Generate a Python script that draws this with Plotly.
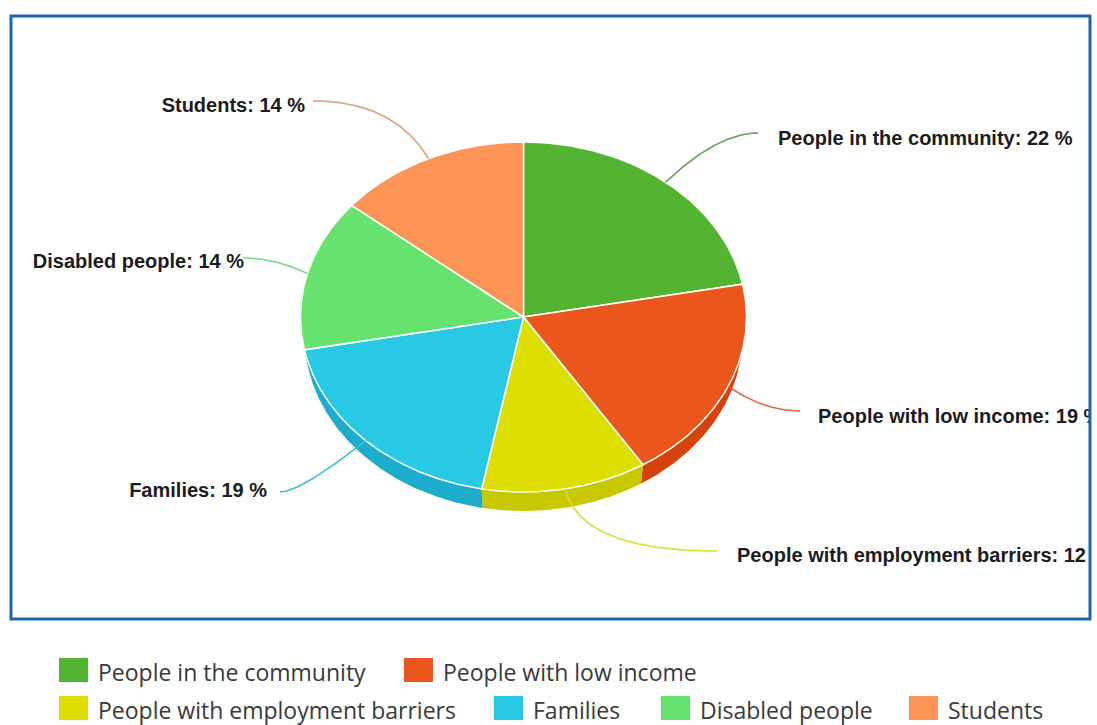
import numpy as np
import plotly.graph_objects as go

# ---------------- data ----------------
categories = ["People in the community", "People with low income",
              "People with employment barriers", "Families",
              "Disabled people", "Students"]
values = [22, 19, 12, 19, 14, 14]

# ---------------- styles ----------------
colors_top = ["#53b432", "#ea561b", "#dedf00", "#27c9e5", "#66e26f", "#fd9456"]
colors_side = ["#3f9a22", "#d4420e", "#c8c800", "#1badcb", "#4ec85a", "#e07a3e"]
conn_colors = ["#6a9e58", "#e2673f", "#d3e03a", "#3cc3d0", "#78dd80", "#dfa177"]

W, H = 1097, 725
CLIP_X = 1089
# pie geometry (pixels)
CX, CY, RX, RY = 523.5, 317.0, 223.0, 175.0
DEPTH, RXB = 19.0, 219.0

# label layout: text edge x, cap-centre y, side
label_x = [778, 818, 737, 267, 244, 305]
label_y = [140, 418, 557, 492, 263, 107]
label_side = ["right", "right", "right", "left", "left", "left"]
conn_end_x = [758, 800, 717, 280, 243, 313]
conn_end_y = [133, 411, 551, 492, 258, 101]

# legend layout
leg_sw_x = [59, 404, 59, 494, 661, 909]
leg_row_y = [670, 670, 708, 708, 708, 708]

fig = go.Figure()

total = float(sum(values))
cum = np.concatenate([[0.0], np.cumsum(values)]) / total
th_start = np.radians(90 - 360 * cum[:-1])
th_end = np.radians(90 - 360 * cum[1:])


def top_pt(t):
    return CX + RX * np.cos(t), CY - RY * np.sin(t)


def bot_pt(t):
    return CX + RXB * np.cos(t), CY + DEPTH - RY * np.sin(t)


# side bands
for i in range(len(values)):
    t = np.linspace(th_start[i], th_end[i], 120)
    tx, ty = top_pt(t)
    bx, by = bot_pt(t[::-1])
    fig.add_trace(go.Scatter(
        x=np.concatenate([tx, bx, tx[:1]]), y=np.concatenate([ty, by, ty[:1]]),
        mode="lines", fill="toself", fillcolor=colors_side[i],
        line=dict(width=0, color=colors_side[i]), hoverinfo="skip"))

# top faces
for i in range(len(values)):
    t = np.linspace(th_start[i], th_end[i], 120)
    tx, ty = top_pt(t)
    fig.add_trace(go.Scatter(
        x=np.concatenate([[CX], tx, [CX]]), y=np.concatenate([[CY], ty, [CY]]),
        mode="lines", fill="toself", fillcolor=colors_top[i],
        line=dict(width=1.5, color="white"), hoverinfo="skip"))

# connectors
for i in range(len(values)):
    tm = (th_start[i] + th_end[i]) / 2
    p0 = np.array(top_pt(tm))
    p2 = np.array([conn_end_x[i], conn_end_y[i]], dtype=float)
    d = p0 - np.array([CX, CY])
    s = (p2[1] - p0[1]) / d[1] if abs(d[1]) > 1e-6 else 0.0
    p1 = p0 + s * d
    lo, hi = min(p0[0], p2[0]), max(p0[0], p2[0])
    if not (lo + 5 < p1[0] < hi - 5) or s < 0:
        p1 = np.array([(p0[0] + p2[0]) / 2, p2[1]])
    u = np.linspace(0, 1, 60)[:, None]
    pts = (1 - u) ** 2 * p0 + 2 * (1 - u) * u * p1 + u ** 2 * p2
    fig.add_trace(go.Scatter(x=pts[:, 0], y=pts[:, 1], mode="lines",
                             line=dict(width=1.6, color=conn_colors[i]),
                             hoverinfo="skip"))

# labels
label_text = [f"{c}: {v} %" for c, v in zip(categories, values)]
fig.add_trace(go.Scatter(
    x=label_x, y=label_y, text=label_text, mode="text",
    textposition=["middle " + s for s in label_side],
    textfont=dict(family="Liberation Sans, Arial, sans-serif", size=20,
                  color="#1c1c1c", weight="bold"),
    cliponaxis=True, hoverinfo="skip"))

shapes = [dict(type="rect", xref="paper", yref="paper",
               x0=11 / W, x1=1090 / W, y0=1 - 619 / H, y1=1 - 16 / H,
               line=dict(color="#1b67ab", width=3), fillcolor="rgba(0,0,0,0)")]
annotations = []
for i, c in enumerate(categories):
    x0 = leg_sw_x[i]
    yc = leg_row_y[i]
    shapes.append(dict(type="rect", xref="paper", yref="paper",
                       x0=x0 / W, x1=(x0 + 29) / W,
                       y0=1 - (yc + 12) / H, y1=1 - (yc - 12) / H,
                       line=dict(width=0), fillcolor=colors_top[i]))
    annotations.append(dict(xref="paper", yref="paper", x=(x0 + 37) / W,
                            y=1 - (yc + 2) / H, xanchor="left", yanchor="middle",
                            text=c, showarrow=False,
                            font=dict(family="Open Sans", size=23, color="#3a3a3a")))

fig.update_layout(
    width=W, height=H, margin=dict(l=0, r=0, t=0, b=0),
    paper_bgcolor="white", plot_bgcolor="white", showlegend=False,
    hovermode=False,
    xaxis=dict(range=[0, CLIP_X], domain=[0, CLIP_X / W], visible=False, fixedrange=True),
    yaxis=dict(range=[H, 0], domain=[0, 1], visible=False, fixedrange=True),
    shapes=shapes, annotations=annotations)

fig.write_html("out.html")
